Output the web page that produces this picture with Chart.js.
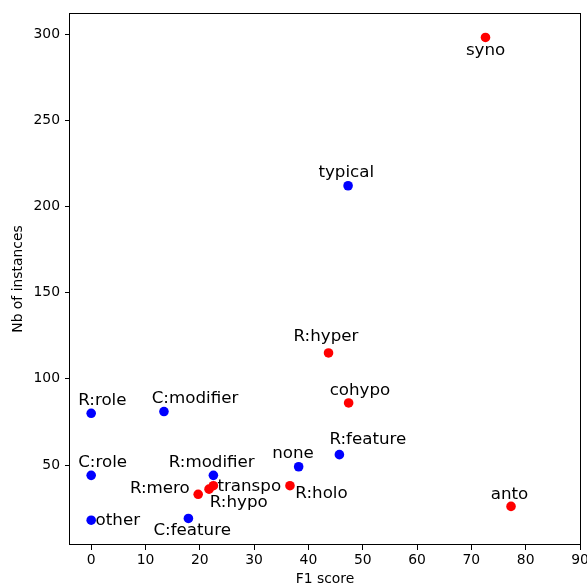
<!DOCTYPE html>
<html>
<head>
<meta charset="utf-8">
<script src="https://cdn.jsdelivr.net/npm/chart.js@4"></script>
<style>
  html, body { margin: 0; padding: 0; background: #fff; }
  #wrap { width: 587px; height: 585px; }
</style>
</head>
<body>
<div id="wrap"><canvas id="c" width="587" height="585"></canvas></div>
<script>
// ---- data ----
const redLabels = ['syno', 'R:hyper', 'cohypo', 'R:holo', 'anto', 'R:mero', 'transpo', 'R:hypo'];
const redF1     = [72.6, 43.7, 47.4, 36.6, 77.3, 19.7, 22.5, 21.7];
const redCount  = [298, 115, 86, 38, 26, 33, 38, 36];

const blueLabels = ['typical', 'R:feature', 'none', 'R:modifier', 'C:feature', 'R:role', 'C:modifier', 'C:role', 'other'];
const blueF1     = [47.3, 45.7, 38.2, 22.5, 17.9, 0, 13.4, 0, 0];
const blueCount  = [212, 56, 49, 44, 19, 80, 81, 44, 18];

const xTicks = [0, 10, 20, 30, 40, 50, 60, 70, 80, 90];
const yTicks = [50, 100, 150, 200, 250, 300];

const xTitle = 'F1 score';
const yTitle = 'Nb of instances';

// ---- styles: label placement (pixel offsets of text baseline-left from the marker) ----
const labelOffsets = {
  'syno': [-19.6, 17.6],
  'typical': [-29.7, -8.3],
  'R:hyper': [-35, -12],
  'cohypo': [-19, -8.3],
  'R:feature': [-10, -10.4],
  'none': [-26.4, -8.4],
  'R:holo': [5.4, 12.6],
  'anto': [-20.3, -7.4],
  'R:modifier': [-44.7, -8],
  'R:mero': [-68.3, -1.3],
  'transpo': [4, 5],
  'R:hypo': [0.7, 17.4],
  'C:feature': [-35, 16.7],
  'R:role': [-13, -8.7],
  'C:modifier': [-12.3, -8.4],
  'C:role': [-13, -8],
  'other': [4.4, 4.7]
};

const FONT = "'DejaVu Sans', 'Liberation Sans', sans-serif";
Chart.defaults.font.family = FONT;
Chart.defaults.color = '#000';

function toPoints(xs, ys) { return xs.map((x, i) => ({ x: x, y: ys[i] })); }

const frameAndLabels = {
  id: 'frameAndLabels',
  afterDatasetsDraw(chart) {
    const ctx = chart.ctx;
    const a = chart.chartArea;
    ctx.save();
    ctx.strokeStyle = '#000';
    ctx.lineWidth = 1;
    ctx.strokeRect(Math.round(a.left) - 0.5, Math.round(a.top) + 0.5,
                   Math.round(a.right - a.left) + 1, Math.round(a.bottom - a.top) - 1);
    ctx.fillStyle = '#000';
    ctx.font = '16.7px ' + FONT;
    ctx.textAlign = 'left';
    ctx.textBaseline = 'alphabetic';
    chart.data.datasets.forEach((ds, di) => {
      const meta = chart.getDatasetMeta(di);
      meta.data.forEach((pt, i) => {
        const name = ds.pointNames[i];
        const off = labelOffsets[name] || [0, 0];
        ctx.fillText(name, pt.x + off[0], pt.y + off[1]);
      });
    });
    ctx.restore();
  }
};

new Chart(document.getElementById('c'), {
  type: 'scatter',
  data: {
    datasets: [
      {
        label: 'red',
        pointNames: redLabels,
        data: toPoints(redF1, redCount),
        backgroundColor: '#ff0000',
        borderWidth: 0,
        pointRadius: 4.8,
        pointHoverRadius: 4.8
      },
      {
        label: 'blue',
        pointNames: blueLabels,
        data: toPoints(blueF1, blueCount),
        backgroundColor: '#0000ff',
        borderWidth: 0,
        pointRadius: 4.8,
        pointHoverRadius: 4.8
      }
    ]
  },
  options: {
    responsive: false,
    animation: false,
    devicePixelRatio: 1,
    layout: { padding: { left: 0, right: 7, top: 13, bottom: 0 } },
    plugins: {
      legend: { display: false },
      tooltip: { enabled: false }
    },
    scales: {
      x: {
        type: 'linear',
        min: -3.9,
        max: 90,
        afterBuildTicks(scale) { scale.ticks = xTicks.map(v => ({ value: v })); },
        afterFit(scale) { scale.height = 40; scale.paddingLeft = 0; scale.paddingRight = 0; },
        ticks: {
          font: { size: 13.9 },
          color: '#000',
          padding: 2,
          maxRotation: 0,
          autoSkip: false,
          callback: v => String(v)
        },
        grid: { drawOnChartArea: false, drawTicks: true, tickLength: 5, color: '#000', lineWidth: 1 },
        border: { display: false },
        title: { display: true, text: xTitle, font: { size: 13.9 }, color: '#000', padding: { top: 0, bottom: -3 } }
      },
      y: {
        type: 'linear',
        min: 3.6,
        max: 312.2,
        afterBuildTicks(scale) { scale.ticks = yTicks.map(v => ({ value: v })); },
        afterFit(scale) { scale.width = 70; scale.paddingTop = 0; scale.paddingBottom = 0; },
        ticks: {
          font: { size: 13.9 },
          color: '#000',
          padding: 5,
          autoSkip: false,
          callback: v => String(v)
        },
        grid: { drawOnChartArea: false, drawTicks: true, tickLength: 5, color: '#000', lineWidth: 1 },
        border: { display: false },
        title: { display: true, text: yTitle, font: { size: 13.9 }, color: '#000', padding: { top: 10, bottom: 0 } }
      }
    }
  },
  plugins: [frameAndLabels]
});
</script>
</body>
</html>
